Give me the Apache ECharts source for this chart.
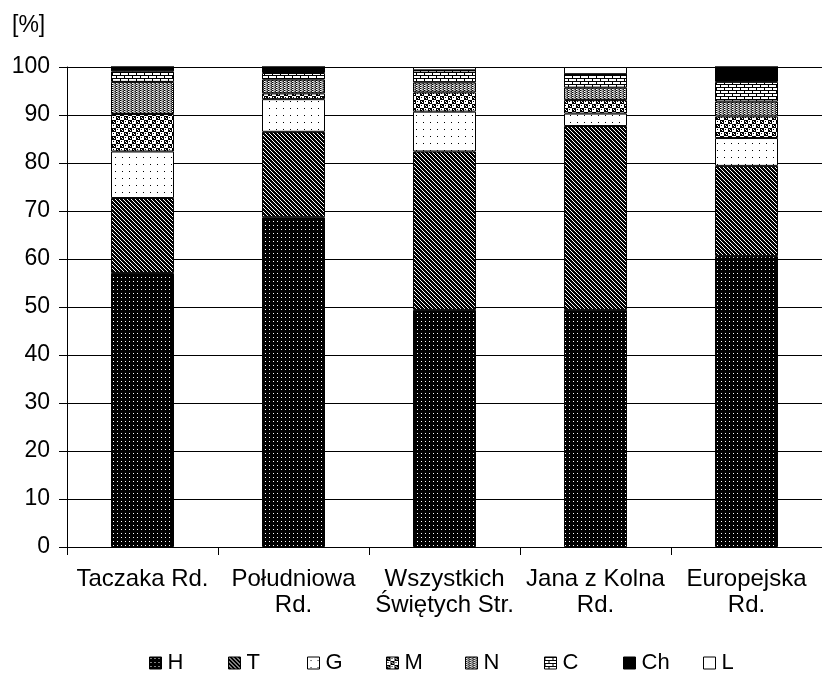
<!DOCTYPE html>
<html>
<head>
<meta charset="utf-8">
<script src="https://cdn.jsdelivr.net/npm/echarts@6/dist/echarts.min.js"></script>
<style>
  html, body { margin: 0; padding: 0; background: #fff; }
  #chart { width: 822px; height: 688px; }
</style>
</head>
<body>
<div id="chart"></div>
<script>
// categories (roads / streets)
const categories = ['Taczaka Rd.', 'Południowa\nRd.', 'Wszystkich\nŚwiętych Str.', 'Jana z Kolna\nRd.', 'Europejska\nRd.'];
const yTicks = [0, 10, 20, 30, 40, 50, 60, 70, 80, 90, 100];

// share of each class, %
const H  = [57.1, 68.7, 49.4, 49.4, 60.6];
const T  = [15.6, 17.8, 33.0, 38.3, 18.8];
const G  = [9.7, 6.8, 8.3, 2.6, 5.8];
const M  = [7.8, 1.2, 4.0, 2.8, 4.5];
const N  = [6.7, 2.9, 2.1, 2.6, 3.1];
const C  = [2.2, 1.35, 2.5, 2.8, 4.1];
const Ch = [0.9, 1.25, 0, 0, 3.1];
const L  = [0, 0, 0.7, 1.5, 0];

const seriesNames = ['H', 'T', 'G', 'M', 'N', 'C', 'Ch', 'L'];
const seriesData = [H, T, G, M, N, C, Ch, L];

// little canvas tiles for the black & white fills
function tile(w, h, draw) {
  const c = document.createElement('canvas');
  c.width = w; c.height = h;
  const ctx = c.getContext('2d');
  draw(ctx);
  return { image: c, repeat: 'repeat' };
}
function px(ctx, x, y, col) { ctx.fillStyle = col; ctx.fillRect(x, y, 1, 1); }

const fills = {
  H: tile(4, 4, ctx => {
    ctx.fillStyle = '#000'; ctx.fillRect(0, 0, 4, 4);
    px(ctx, 1, 1, '#fff');
  }),
  T: tile(4, 4, ctx => {
    ctx.fillStyle = '#000'; ctx.fillRect(0, 0, 4, 4);
    for (let i = 0; i < 4; i++) px(ctx, i, i, '#fff');
  }),
  G: tile(7, 7, ctx => {
    ctx.fillStyle = '#fff'; ctx.fillRect(0, 0, 7, 7);
    px(ctx, 3, 3, '#000');
  }),
  M: tile(8, 8, ctx => {
    ctx.fillStyle = '#fff'; ctx.fillRect(0, 0, 8, 8);
    ctx.fillStyle = '#000';
    ctx.fillRect(0, 0, 4, 4); ctx.fillRect(4, 4, 4, 4);
    px(ctx, 1, 1, '#fff'); px(ctx, 2, 2, '#fff');
    px(ctx, 5, 5, '#fff'); px(ctx, 6, 6, '#fff');
    px(ctx, 5, 1, '#000'); px(ctx, 1, 5, '#000');
  }),
  N: tile(4, 2, ctx => {
    ctx.fillStyle = '#777'; ctx.fillRect(0, 0, 4, 2);
    px(ctx, 0, 0, '#000'); px(ctx, 2, 0, '#bbb');
    px(ctx, 1, 1, '#ccc'); px(ctx, 3, 1, '#222');
    px(ctx, 0, 1, '#fff');
  }),
  C: tile(8, 6, ctx => {
    ctx.fillStyle = '#fff'; ctx.fillRect(0, 0, 8, 6);
    ctx.fillStyle = '#000';
    ctx.fillRect(0, 0, 8, 1); ctx.fillRect(0, 3, 8, 1);
    ctx.fillRect(0, 1, 1, 2); ctx.fillRect(4, 4, 1, 2);
  }),
  Ch: '#000',
  L: '#fff'
};

const font = 'Liberation Sans, Arial, sans-serif';
// x of each legend entry (Excel spaces them evenly)
const legendLeft = [149, 228, 307, 386, 465, 544, 623, 703];

const series = seriesNames.map((name, i) => ({
  name: name,
  type: 'bar',
  stack: 'all',
  barWidth: 63,
  data: seriesData[i],
  itemStyle: { color: fills[name], borderColor: '#000', borderWidth: 1 },
  emphasis: { disabled: true }
}));

const legends = seriesNames.map((name, i) => ({
  data: [name],
  left: legendLeft[i], top: 652,
  padding: 0,
  itemWidth: 12, itemHeight: 12,
  icon: 'rect',
  selectedMode: false,
  itemStyle: { borderColor: '#000', borderWidth: 1 },
  textStyle: { fontSize: 22, color: '#000', fontFamily: font, padding: [0, 0, 0, 1] }
}));

const chart = echarts.init(document.getElementById('chart'), null, { renderer: 'canvas' });
chart.setOption({
  animation: false,
  backgroundColor: '#fff',
  textStyle: { fontFamily: font },
  graphic: [{
    type: 'text', left: 12, top: 14,
    style: { text: '[%]', fontSize: 23, fontFamily: font, fill: '#000' }
  }],
  grid: { left: 67, right: 0, top: 67, bottom: 141, containLabel: false },
  legend: legends,
  xAxis: {
    type: 'category',
    data: categories,
    axisLine: { lineStyle: { color: '#000', width: 1 } },
    axisTick: { show: true, alignWithLabel: false, length: 8, lineStyle: { color: '#000' } },
    axisLabel: { color: '#000', fontSize: 24, fontFamily: font, lineHeight: 26, margin: 19, interval: 0 }
  },
  yAxis: {
    type: 'value',
    min: yTicks[0], max: yTicks[yTicks.length - 1], interval: 10,
    axisLine: { show: true, lineStyle: { color: '#000', width: 1 } },
    axisTick: { show: true, length: 8, lineStyle: { color: '#000' } },
    axisLabel: { color: '#000', fontSize: 23, fontFamily: font, margin: 17 },
    splitLine: { show: true, lineStyle: { color: '#000', width: 1 } }
  },
  series: series
});
</script>
</body>
</html>
